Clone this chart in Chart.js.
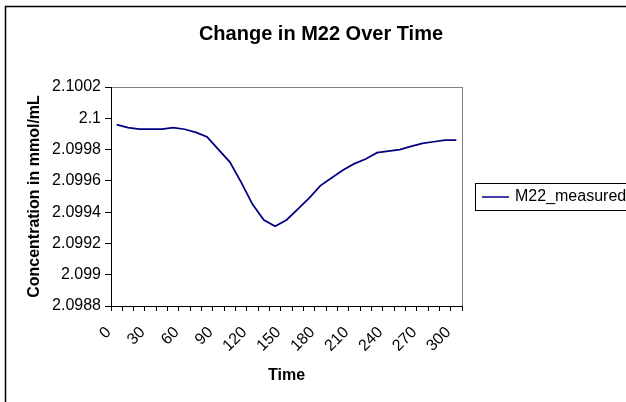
<!DOCTYPE html>
<html>
<head>
<meta charset="utf-8">
<title>Change in M22 Over Time</title>
<script src="https://cdn.jsdelivr.net/npm/chart.js@4.4.1/dist/chart.umd.min.js"></script>
<style>
    html, body { margin: 0; padding: 0; background: #fff; }
    #wrap { width: 626px; height: 402px; position: relative; }
</style>
</head>
<body>
<div id="wrap"><canvas id="m22Chart" width="626" height="402"></canvas></div>
<script>
"use strict";

// sample times (x categories)
var timePoints = [0, 10, 20, 30, 40, 50, 60, 70, 80, 90, 100, 110, 120, 130, 140, 150,
    160, 170, 180, 190, 200, 210, 220, 230, 240, 250, 260, 270, 280, 290, 300];

// measured M22 concentration
var m22Measured = [2.09996, 2.09994, 2.09993, 2.09993, 2.09993, 2.09994, 2.09993, 2.09991,
    2.09988, 2.09980, 2.09972, 2.09959, 2.09945, 2.09935, 2.09931, 2.09935, 2.09942,
    2.09949, 2.09957, 2.09962, 2.09967, 2.09971, 2.09974, 2.09978, 2.09979, 2.09980,
    2.09982, 2.09984, 2.09985, 2.09986, 2.09986];

// y axis range: min, max, step
var yTickRange = [2.0988, 2.1002, 0.0002];
// only every third time gets a label
var xLabelEvery = 30;

var seriesName = "M22_measured";
var chartTitle = "Change in M22 Over Time";
var xTitle = "Time";
var yTitle = "Concentration in mmol/mL";

var FONT = "'Liberation Sans', Arial, sans-serif";

// excel style frame, title and legend drawn by hand
var sheetDecor = {
    id: "sheetDecor",
    beforeDraw: function (chart) {
        var ctx = chart.ctx, a = chart.chartArea;
        ctx.save();
        ctx.fillStyle = "#fff";
        ctx.fillRect(0, 0, chart.width, chart.height);
        // plot area box (left/bottom are overdrawn by the axes)
        ctx.strokeStyle = "#808080";
        ctx.lineWidth = 1;
        ctx.strokeRect(Math.round(a.left) + 0.5, Math.round(a.top) + 0.5,
            Math.round(a.right - a.left), Math.round(a.bottom - a.top));
        ctx.restore();
    },
    afterDraw: function (chart) {
        var ctx = chart.ctx;
        ctx.save();
        // outer chart border
        ctx.strokeStyle = "#000";
        ctx.lineWidth = 1.5;
        ctx.strokeRect(5.5, 6.5, 700, 500);

        // title
        ctx.fillStyle = "#000";
        ctx.font = "bold 20px " + FONT;
        ctx.textAlign = "center";
        ctx.textBaseline = "middle";
        ctx.fillText(chartTitle, 321, 34);

        // legend
        var ds = chart.data.datasets[0];
        ctx.lineWidth = 1;
        ctx.strokeStyle = "#000";
        ctx.strokeRect(475.5, 183.5, 200, 27);
        ctx.strokeStyle = ds.borderColor;
        ctx.lineWidth = 1.5;
        ctx.beginPath();
        ctx.moveTo(482, 197);
        ctx.lineTo(509, 197);
        ctx.stroke();
        ctx.font = "16px " + FONT;
        ctx.textAlign = "left";
        ctx.fillText(ds.label, 515, 197);
        ctx.restore();
    }
};

var ctx = document.getElementById("m22Chart").getContext("2d");
new Chart(ctx, {
    type: "line",
    data: {
        labels: timePoints,
        datasets: [
            {
                label: seriesName,
                data: m22Measured,
                borderColor: "#000080",
                borderWidth: 1.75,
                pointRadius: 0,
                tension: 0,
                fill: false,
            },
        ],
    },
    options: {
        responsive: false,
        animation: false,
        events: [],
        layout: { padding: { left: 0, top: 87, right: 164, bottom: 0 } },
        plugins: {
            legend: { display: false },
            title: { display: false },
            tooltip: { enabled: false },
        },
        scales: {
            x: {
                offset: true,
                afterFit: function (scale) { scale.height = 96; },
                grid: {
                    offset: true,
                    drawOnChartArea: false,
                    drawTicks: true,
                    tickLength: 5,
                    tickColor: "#000",
                },
                border: { color: "#000", width: 1 },
                ticks: {
                    autoSkip: false,
                    maxRotation: 45,
                    minRotation: 45,
                    padding: 12,
                    labelOffset: -8,
                    color: "#000",
                    font: { family: FONT, size: 16 },
                    callback: function (v, i) {
                        var t = timePoints[i];
                        return t % xLabelEvery === 0 ? String(t) : "";
                    },
                },
                title: {
                    display: true,
                    text: xTitle,
                    color: "#000",
                    font: { family: FONT, size: 16, weight: "bold" },
                    padding: { top: 0, bottom: 17 },
                },
            },
            y: {
                min: yTickRange[0],
                max: yTickRange[1],
                afterFit: function (scale) { scale.width = 111; },
                grid: {
                    drawOnChartArea: false,
                    drawTicks: true,
                    tickLength: 6,
                    tickColor: "#000",
                },
                border: { color: "#000", width: 1 },
                ticks: {
                    stepSize: yTickRange[2],
                    padding: 4,
                    color: "#000",
                    font: { family: FONT, size: 16 },
                    callback: function (v) { return String(+v.toFixed(4)); },
                },
                title: {
                    display: true,
                    text: yTitle,
                    color: "#000",
                    font: { family: FONT, size: 16, weight: "bold" },
                    padding: { top: 25, bottom: 0 },
                },
            },
        },
    },
    plugins: [sheetDecor],
});
</script>
</body>
</html>
